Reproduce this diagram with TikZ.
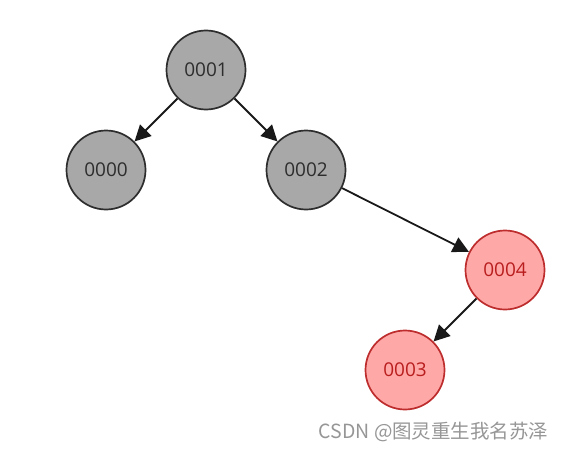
\documentclass[tikz,border=0pt]{standalone}
\usepackage{fontspec}
\setmainfont{Open Sans}
\newfontfamily\cjk{Noto Sans CJK SC}
\definecolor{grisnode}{RGB}{168,168,168}
\definecolor{grisbord}{RGB}{45,45,45}
\definecolor{rougefill}{RGB}{255,168,168}
\definecolor{rougebord}{RGB}{190,45,45}
\definecolor{rougetxt}{RGB}{185,30,30}
\definecolor{marque}{RGB}{150,150,150}
\usetikzlibrary{arrows.meta}

\begin{document}
\begin{tikzpicture}[x=1pt,y=1pt,font=\fontsize{19}{22}\selectfont,
				nd/.style={circle,draw=grisbord,fill=grisnode,line width=1.7pt,
					minimum size=79pt,inner sep=0pt,text=grisbord},
				nr/.style={nd,draw=rougebord,fill=rougefill,text=rougetxt},
				arr/.style={-{Triangle[length=16pt,width=16pt]},black!90,line width=1.8pt}]
				\useasboundingbox (0,0) rectangle (567,451);
				\node[nd] (n1) at (206,381){0001};
				
				\node[nd] (n0) at (106,281){0000};
				\node[nd] (n2) at (306,281){0002};
				\draw[arr](n1)--(n0);
				\draw[arr](n1)--(n2);
				
				\node[nr] (n4) at (505,181){0004};
				\draw[arr](n2)--(n4);
				
				\node[nr] (n3) at (405,81){0003};
				\draw[arr](n4)--(n3);
				
				\node[anchor=east,text=marque,font=\cjk\fontsize{19.5}{22}\selectfont] (wm) at (552,19){CSDN @图灵重生我名苏泽};
			\end{tikzpicture}
\end{document}
